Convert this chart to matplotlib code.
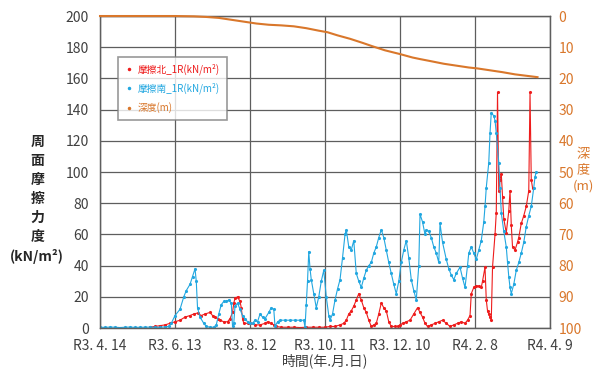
import matplotlib.pyplot as plt

plt.rcParams['font.family'] = ['Noto Sans CJK JP', 'DejaVu Sans']

# Elapsed days from R3.4.14, tick every 60 days
tick_days = [0, 60, 120, 180, 240, 300, 360]
tick_labels = ["R3. 4. 14", "R3. 6. 13", "R3. 8. 12", "R3. 10. 11",
               "R3. 12. 10", "R4. 2. 8", "R4. 4. 9"]

# 摩擦南_1R (kN/m2)
south_days = [0, 4, 8, 12, 16, 20, 24, 28, 32, 36, 40, 44, 48, 52, 55,
              57, 60, 64, 67, 69, 72, 74, 76, 77, 78, 80, 83, 85, 88, 91,
              93, 95, 97, 99, 101, 103, 105, 106, 107, 108, 110, 112, 114,
              116, 118, 120, 122, 124, 126, 128, 130, 132, 135, 137, 139,
              140, 142, 144, 148, 152, 156, 160, 163, 164, 165, 166, 167,
              168, 169, 171, 173, 175, 177, 179, 181, 183, 184, 186, 188,
              190, 192, 194, 196, 197, 199, 201, 203, 205, 207, 209, 211,
              213, 215, 217, 219, 221, 223, 225, 227, 229, 231, 233, 235,
              237, 239, 241, 243, 245, 247, 249, 251, 253, 255, 256, 258,
              260, 261, 263, 265, 267, 269, 271, 272, 274, 277, 279, 281,
              283, 285, 288, 290, 292, 294, 295, 297, 299, 301, 303, 305,
              307, 308, 309, 311, 312, 313, 315, 316, 317, 319, 320, 321,
              323, 325, 326, 327, 328, 329, 331, 333, 335, 337, 339, 341,
              343, 345, 347, 348, 349]
south_vals = [0.5, 0.4, 0.6, 0.5, 0.3, 0.5, 0.6, 0.4, 0.5, 0.5, 0.6, 0.4,
              0.5, 0.7, 1.0,
              3, 8, 12, 20, 24, 28, 33, 38, 30, 13, 7, 3, 1, 0.5, 0.5,
              2, 9, 15, 17, 17, 18, 16, 1, 3, 14, 16, 12, 8,
              6, 4, 3, 3, 5, 4, 9, 7, 6, 10, 13, 12,
              1, 4, 5, 5, 5, 5, 5, 5, 0.5, 15, 30, 49,
              38, 31, 22, 13, 20, 30, 37, 20, 8, 5, 9, 18,
              25, 31, 45, 60, 63, 52, 50, 56, 35, 30, 26, 32,
              37, 40, 42, 48, 52, 58, 63, 58, 50, 42, 35, 28,
              22, 30, 42, 50, 56, 45, 31, 24, 18, 40, 73, 68,
              60, 63, 62, 58, 52, 48, 42, 67, 55, 44, 38, 34,
              31, 35, 39, 32, 26, 40, 48, 52, 48, 44, 50, 56,
              68, 78, 90, 106, 125, 138, 136, 133, 125, 106, 90, 74,
              62, 52, 42, 33, 26, 22, 28, 37, 42, 48, 55, 65,
              72, 78, 90, 97, 100]

# 摩擦北_1R (kN/m2)
north_days = [40, 44, 48, 52, 56, 60, 64, 68, 72, 75, 78, 81, 84, 88, 90,
              92, 94, 96, 99, 102, 104, 106, 107, 108, 110, 112, 113, 114,
              115, 118, 120, 124, 128, 132, 134, 137, 139, 141, 145, 150,
              155, 160, 165, 170, 175, 180, 184, 188, 192, 195, 197, 199,
              201, 203, 205, 207, 209, 211, 213, 215, 217, 219, 221, 223,
              225, 227, 229, 231, 233, 236, 238, 240, 242, 245, 248, 251,
              254, 256, 258, 260, 262, 265, 268, 271, 274, 277, 280, 283,
              286, 289, 292, 294, 296, 297, 299, 301, 303, 305, 306, 308,
              309, 310, 311, 312, 313, 314, 316, 317, 318, 319, 320, 321,
              322, 323, 325, 327, 328, 329, 330, 332, 334, 335, 337, 339,
              341, 343, 344, 345, 346]
north_vals = [0.5, 1, 1.5, 2, 3, 4, 5, 7, 8, 9, 9.6, 8, 9, 10, 8,
              7, 6, 5, 4, 4, 6, 10, 16, 19, 20, 17, 13, 6,
              3, 3, 3, 2, 2, 3, 4, 3, 2, 1, 0.5, 0.5,
              0.5, 0.3, 0.5, 0.5, 0.5, 0.5, 1, 1, 2, 3, 5, 9,
              11, 14, 18, 22, 18, 13, 10, 5, 1, 2, 3, 9,
              16, 13, 11, 4, 1, 1, 1, 2, 3, 4, 5, 9,
              13, 10, 7, 3, 1, 2, 3, 4, 5, 3, 1, 2,
              3, 4, 3, 5, 8, 22, 26, 27, 27, 26, 30, 39,
              18, 11, 9, 7, 5, 39, 60, 74, 151, 88, 95, 99,
              84, 70, 61, 75, 88, 66, 52, 50, 55, 58, 67, 72,
              78, 88, 151, 95, 90]

# 深度 (m)
depth_days = [0, 20, 40, 60, 75, 85, 95, 105, 115, 125, 135, 145, 155, 165,
              175, 182, 190, 200, 210, 218, 228, 240, 250, 256, 265, 275,
              285, 295, 302, 312, 322, 332, 342, 350]
depth_vals = [0, 0, 0, 0, 0.1, 0.3, 0.6, 1.2, 1.8, 2.4, 2.8, 3.0, 3.3, 3.9,
              4.7, 5.2, 6.2, 7.3, 8.6, 9.7, 11.0, 12.2, 13.3, 13.8, 14.5,
              15.3, 15.9, 16.5, 16.8, 17.4, 18.0, 18.7, 19.2, 19.6]

RED = "#ee1c1c"
BLUE = "#22a7e0"
ORANGE = "#d9772b"
GRID = "#5e5e5e"
TEXT = "#404040"

fig = plt.figure(figsize=(6, 3.7), dpi=100)
ax = fig.add_axes([0.1667, 0.1135, 0.75, 0.8432])
ax2 = ax.twinx()

ax.plot(north_days, north_vals, color=RED, lw=0.8, marker=".", ms=2.5,
        label="摩擦北_1R(kN/m²)")
ax.plot(south_days, south_vals, color=BLUE, lw=0.8, marker=".", ms=2.5,
        label="摩擦南_1R(kN/m²)")
ax2.plot(depth_days, depth_vals, color=ORANGE, lw=1.5, label="深度(m)",
         clip_on=False, zorder=5)

ax.set_xlim(0, 360)
ax.set_ylim(0, 200)
ax.set_yticks(range(0, 201, 20))
ax.set_xticks(tick_days)
ax.set_xticklabels(tick_labels)
ax.grid(True, color=GRID, lw=0.9)
ax.set_axisbelow(True)
ax.tick_params(axis="both", length=0, labelsize=10, colors=TEXT)
ax.tick_params(axis="x", pad=8)
ax.tick_params(axis="y", pad=8)

ax2.set_ylim(100, 0)
ax2.set_yticks(range(0, 101, 10))
ax2.tick_params(axis="y", length=0, labelsize=10, colors=ORANGE, pad=6)

for a in (ax, ax2):
    for side, spine in a.spines.items():
        spine.set_color(GRID)
        spine.set_linewidth(0.9)

ax.set_xlabel("時間(年.月.日)", fontsize=10, color=TEXT, labelpad=0)

fig.text(0.062, 0.46, "周\n面\n摩\n擦\n力\n度\n(kN/m²)", ha="center",
         va="center", fontsize=10, color="#262626", linespacing=1.45,
         fontweight="bold")
fig.text(0.972, 0.54, "深\n度\n(m)", ha="center", va="center",
         fontsize=9.5, color=ORANGE, linespacing=1.25)

lines = ax.get_lines() + ax2.get_lines()
leg = ax.legend(handles=[
    plt.Line2D([], [], color=RED, marker=".", ls="none", ms=3,
               label=lines[0].get_label()),
    plt.Line2D([], [], color=BLUE, marker=".", ls="none", ms=3,
               label=lines[1].get_label()),
    plt.Line2D([], [], color=ORANGE, marker=".", ls="none", ms=3,
               label=lines[2].get_label()),
], loc="upper left", bbox_to_anchor=(0.03, 0.885), fontsize=7,
    frameon=True, fancybox=False, edgecolor="#7f7f7f", handlelength=0.8,
    handletextpad=0.5, borderpad=0.7, labelspacing=0.8)
for text, col in zip(leg.get_texts(), (RED, BLUE, ORANGE)):
    text.set_color(col)
leg.get_frame().set_linewidth(1.2)

fig.savefig("out.png", dpi=100)
